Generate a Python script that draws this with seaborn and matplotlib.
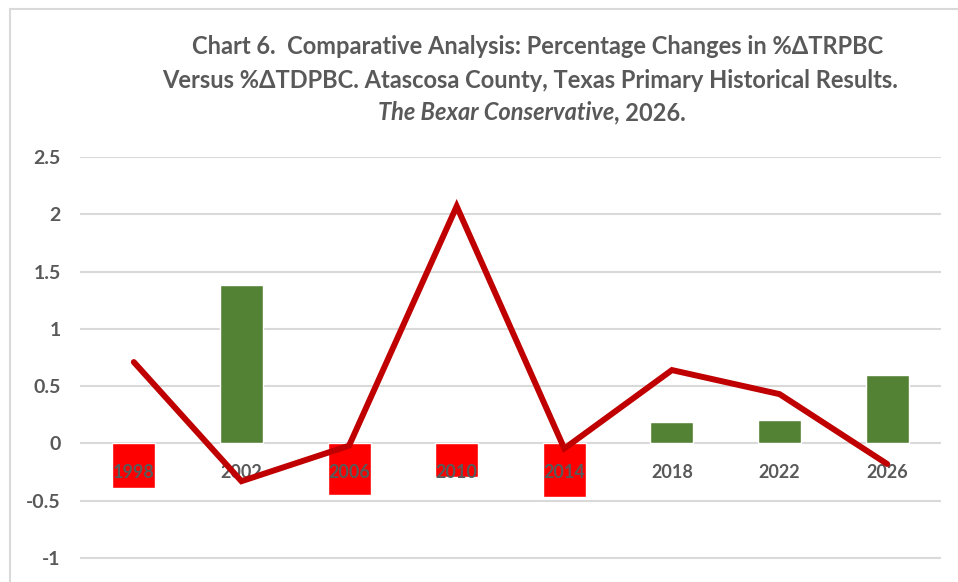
import matplotlib.pyplot as plt
import numpy as np
import pandas as pd
import seaborn as sns
from matplotlib.patches import Rectangle

# data
years = ['1998', '2002', '2006', '2010', '2014', '2018', '2022', '2026']
pct_trpbc = [-0.39, 1.38, -0.45, -0.29, -0.47, 0.19, 0.20, 0.60]     # bars
pct_tdpbc = [0.71, -0.33, -0.02, 2.07, -0.045, 0.64, 0.43, -0.18]  # line

df = pd.DataFrame({'year': years, 'bar': pct_trpbc, 'line': pct_tdpbc})
bar_colors = {y: ('#548235' if v >= 0 else '#FF0000') for y, v in zip(years, pct_trpbc)}

sns.set_style('white')
plt.rcParams['font.family'] = ['Lato', 'DejaVu Sans']
gray = '#595959'

fig = plt.figure(figsize=(9.58, 5.82), dpi=100)
ax = fig.add_axes([80 / 958, 0.0, (941 - 80) / 958, 1 - 157 / 582])

# chart border like the spreadsheet frame
fig.patches.append(Rectangle((10 / 958, -0.1), 1.2, 1 - 9 / 582 + 0.1, transform=fig.transFigure,
                             fill=False, edgecolor='#d9d9d9', linewidth=1.5))

sns.barplot(data=df, x='year', y='bar', hue='year', palette=bar_colors, legend=False,
            width=0.4, saturation=1, ax=ax, zorder=2)
sns.lineplot(data=df, x='year', y='line', color='#C00000', linewidth=4.3, ax=ax,
             zorder=4, solid_joinstyle='miter', sort=False)

ax.set_ylim(-1.21, 2.5)
ax.set_xlim(-0.5, len(years) - 0.5)
ax.set_yticks([-1, -0.5, 0, 0.5, 1, 1.5, 2, 2.5])
ax.set_yticklabels(['-1', '-0.5', '0', '0.5', '1', '1.5', '2', '2.5'])
ax.yaxis.grid(True, color='#d9d9d9', linewidth=1.5, zorder=0)
ax.set_axisbelow(True)
ax.xaxis.set_zorder(3)  # year labels sit on top of the bars
for s in ax.spines.values():
    s.set_visible(False)
ax.spines['bottom'].set_position(('data', 0))
ax.tick_params(axis='y', length=0, pad=14, labelsize=14, labelcolor=gray)
ax.tick_params(axis='x', length=0, pad=15, labelsize=13, labelcolor=gray)
for lab in ax.get_xticklabels() + ax.get_yticklabels():
    lab.set_fontweight('bold')
ax.set_xlabel('')
ax.set_ylabel('')

# title (three lines, third partly italic)
fs = 17
fig.text(538 / 958, 1 - 47 / 582, 'Chart 6.  Comparative Analysis: Percentage Changes in %ΔTRPBC',
         ha='center', va='center', fontsize=fs, fontweight='bold', color=gray)
fig.text(530 / 958, 1 - 80 / 582, 'Versus %ΔTDPBC. Atascosa County, Texas Primary Historical Results.',
         ha='center', va='center', fontsize=fs, fontweight='bold', color=gray)
t1 = fig.text(0, 1 - 113 / 582, 'The Bexar Conservative', ha='left', va='center',
              fontsize=fs, fontweight='bold', fontstyle='italic', color=gray)
t2 = fig.text(0, 1 - 113 / 582, ', 2026.', ha='left', va='center',
              fontsize=fs, fontweight='bold', color=gray)
fig.canvas.draw()
r = fig.canvas.get_renderer()
w1 = t1.get_window_extent(r).width
w2 = t2.get_window_extent(r).width
x0 = 532 - (w1 + w2) / 2
t1.set_x(x0 / 958)
t2.set_x((x0 + w1) / 958)

fig.savefig('out.png', dpi=100)
